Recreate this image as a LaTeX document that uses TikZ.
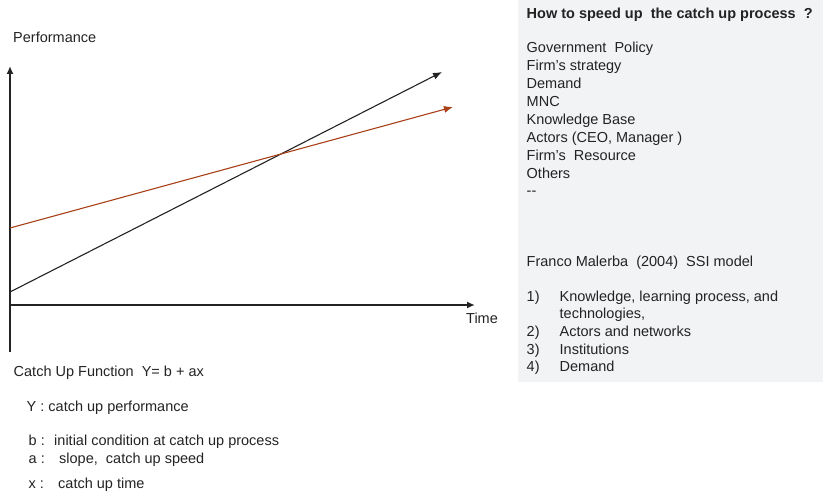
\documentclass[tikz,border=0pt]{standalone}
\usepackage{fontspec}
\setmainfont{Liberation Sans}
\usetikzlibrary{arrows.meta}
\definecolor{boxgray}{RGB}{242,243,245}
\definecolor{rust}{RGB}{168,64,24}
\definecolor{ink}{RGB}{35,35,35}
\tikzset{
  txt/.style={anchor=base west,inner sep=0pt,text=ink,font=\fontsize{14.5}{16}\selectfont},
  axis/.style={-{Latex[length=8pt,width=7pt]},line width=2.2pt,ink},
  curve/.style={-{Latex[length=9pt,width=7pt]},line width=1.1pt}
}
\begin{document}
\begin{tikzpicture}[x=1pt,y=-1pt]
    \useasboundingbox (0,0) rectangle (823,492);
    % Cadre de droite
    \fill[boxgray] (518,0) rectangle (823,382);

    % Axes
    \coordinate (ybas) at (10,352);
    \coordinate (yhaut) at (10,66);
    \coordinate (xgauche) at (10,305);
    \coordinate (xdroite) at (475,305);
    \draw[axis] (ybas) -- (yhaut);
    \draw[axis] (xgauche) -- (xdroite);

    % Droites
    \coordinate (noirA) at (10,292);
    \coordinate (noirB) at (442,72);
    \coordinate (rougeA) at (10,228);
    \coordinate (rougeB) at (453,107);
    \draw[curve,ink] (noirA) -- (noirB);
    \draw[curve,rust] (rougeA) -- (rougeB);

    % Noms des axes
    \node[txt] (perf) at (13,42.5) {Performance};
    \node[txt] (temps) at (466,323.5) {Time};

    % Fonction
    \node[txt] (fonc) at (13.5,376) {Catch Up Function\ \ Y= b + ax};
    \node[txt] (legY) at (26.5,411) {Y : catch up performance};
    \node[txt] (legb) at (28.5,445) {b :\hspace{9.4pt}initial condition at catch up process};
    \node[txt] (lega) at (28.5,463.5) {a :\hspace{14.4pt}slope,\ \ catch up speed};
    \node[txt] (legx) at (28.5,488) {x :\hspace{14.2pt}catch up time};

    % Liste des facteurs
    \node[txt,font=\fontsize{14.5}{16}\selectfont\bfseries] (titre) at (526.5,18.5) {How to speed up\ \ the catch up process\ \ ?};
    \node[txt] (f1) at (526.5,53) {Government\ \ Policy};
    \node[txt] (f2) at (526.5,71) {Firm’s strategy};
    \node[txt] (f3) at (526.5,89) {Demand};
    \node[txt] (f4) at (526.5,107) {MNC};
    \node[txt] (f5) at (526.5,125) {Knowledge Base};
    \node[txt] (f6) at (526.5,143) {Actors (CEO, Manager )};
    \node[txt] (f7) at (526.5,161) {Firm’s\ \ Resource};
    \node[txt] (f8) at (526.5,179) {Others};
    \node[txt] (f9) at (526.5,196) {{-}{-}};

    % Modele SSI
    \node[txt] (ssi) at (526.5,266.5) {Franco Malerba\ \ (2004)\ \ SSI model};
    \node[txt] (n1) at (526.5,301.5) {1)};
    \node[txt] (s1) at (559.5,301.5) {Knowledge, learning process, and};
    \node[txt] (s1b) at (559.5,318.5) {technologies,};
    \node[txt] (n2) at (526.5,336.5) {2)};
    \node[txt] (s2) at (559.5,336.5) {Actors and networks};
    \node[txt] (n3) at (526.5,354) {3)};
    \node[txt] (s3) at (559.5,354) {Institutions};
    \node[txt] (n4) at (526.5,371.5) {4)};
    \node[txt] (s4) at (559.5,371.5) {Demand};
\end{tikzpicture}
\end{document}
